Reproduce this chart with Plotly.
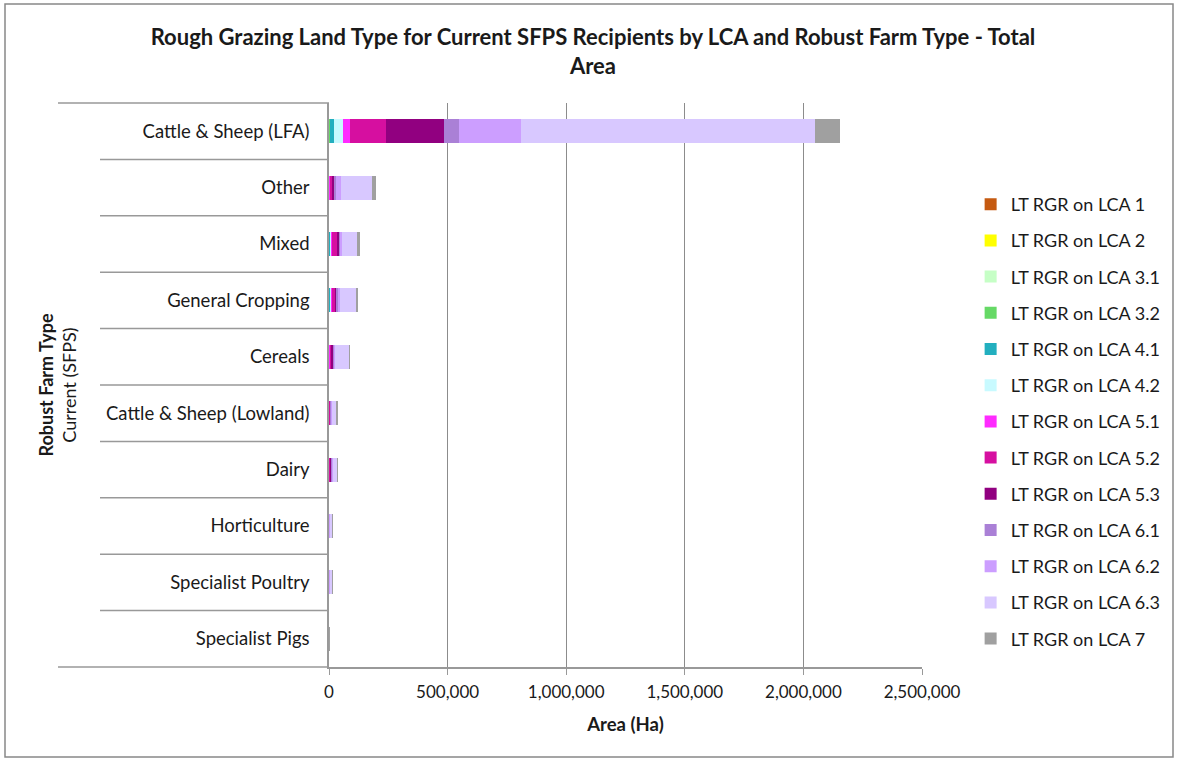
import plotly.graph_objects as go

# Robust farm types, top to bottom
farm_types = [
    "Cattle & Sheep (LFA)",
    "Other",
    "Mixed",
    "General Cropping",
    "Cereals",
    "Cattle & Sheep (Lowland)",
    "Dairy",
    "Horticulture",
    "Specialist Poultry",
    "Specialist Pigs",
]

# Rough grazing area (Ha) by Land Capability for Agriculture class
lca_1 = [300, 0, 0, 0, 0, 0, 0, 0, 0, 0]
lca_2 = [200, 0, 0, 0, 0, 0, 0, 0, 0, 0]
lca_3_1 = [1500, 0, 200, 200, 0, 0, 0, 0, 0, 0]
lca_3_2 = [3000, 200, 500, 500, 200, 100, 100, 0, 0, 0]
lca_4_1 = [15000, 1000, 4000, 4000, 1000, 500, 500, 0, 0, 0]
lca_4_2 = [40000, 1000, 5500, 4000, 1000, 500, 500, 0, 0, 0]
lca_5_1 = [29000, 2000, 4000, 3000, 2000, 500, 1000, 0, 0, 0]
lca_5_2 = [152000, 9000, 18000, 12000, 8000, 3000, 6000, 500, 0, 0]
lca_5_3 = [244000, 10000, 10000, 10000, 5000, 2000, 4000, 0, 0, 0]
lca_6_1 = [65000, 8000, 5500, 6000, 4000, 2000, 2000, 500, 1000, 0]
lca_6_2 = [260000, 21000, 8500, 8000, 6000, 5000, 4000, 4000, 6000, 0]
lca_6_3 = [1240000, 131000, 62000, 67000, 58000, 19000, 16000, 8000, 7000, 1500]
lca_7 = [106000, 15000, 13000, 6000, 3000, 5000, 3000, 500, 500, 1500]

series_names = [
    "LT RGR on LCA 1", "LT RGR on LCA 2", "LT RGR on LCA 3.1", "LT RGR on LCA 3.2",
    "LT RGR on LCA 4.1", "LT RGR on LCA 4.2", "LT RGR on LCA 5.1", "LT RGR on LCA 5.2",
    "LT RGR on LCA 5.3", "LT RGR on LCA 6.1", "LT RGR on LCA 6.2", "LT RGR on LCA 6.3",
    "LT RGR on LCA 7",
]
series_values = [
    lca_1, lca_2, lca_3_1, lca_3_2, lca_4_1, lca_4_2, lca_5_1,
    lca_5_2, lca_5_3, lca_6_1, lca_6_2, lca_6_3, lca_7,
]
series_colors = [
    "#C55A11", "#FFFF00", "#C6FFC6", "#66D966", "#23AFBF", "#C8FAFF", "#FF2BFF",
    "#D60FA0", "#910080", "#AA80D6", "#CC9EFF", "#D8C8FF", "#A0A0A0",
]

x_ticks = [0, 500000, 1000000, 1500000, 2000000, 2500000]
x_tick_text = ["0", "500,000", "1,000,000", "1,500,000", "2,000,000", "2,500,000"]

FONT = "Lato, 'Open Sans', sans-serif"
TXT = "#1a1a1a"

fig = go.Figure()
for name, vals, col in zip(series_names, series_values, series_colors):
    fig.add_trace(go.Bar(
        y=farm_types, x=vals, name=name, orientation="h",
        marker=dict(color=col, line=dict(width=0)),
        legendgroup=name,
    ))

# plot area in pixels: x 329..922, y 103..667
L, R, T, B = 329, 922, 103, 667
W, H = R - L, B - T


def px_x(p):
    return (p - L) / W


def px_y(p):
    return (B - p) / H


shapes = []
# outer chart frame
shapes.append(dict(type="rect", xref="paper", yref="paper",
                   x0=px_x(5), x1=px_x(1173), y0=px_y(757), y1=px_y(4),
                   line=dict(color="#888888", width=1.5), fillcolor="rgba(0,0,0,0)",
                   layer="below"))
# category area top and bottom rules
shapes.append(dict(type="line", xref="paper", yref="paper",
                   x0=px_x(58), x1=0, y0=1, y1=1,
                   line=dict(color="#999999", width=1.5)))
shapes.append(dict(type="line", xref="paper", yref="paper",
                   x0=px_x(58), x1=0, y0=0, y1=0,
                   line=dict(color="#999999", width=1.5)))
# separators between categories
for i in range(len(farm_types) - 1):
    shapes.append(dict(type="line", xref="paper", yref="y",
                       x0=px_x(100), x1=0, y0=i + 0.5, y1=i + 0.5,
                       line=dict(color="#999999", width=1.5)))

fig.update_layout(
    width=1178, height=760,
    margin=dict(l=L, r=1178 - R, t=T, b=760 - B),
    paper_bgcolor="white", plot_bgcolor="white",
    barmode="stack", bargap=0.575,
    font=dict(family=FONT, size=16, color=TXT),
    title=dict(
        text="<b>Rough Grazing Land Type for Current SFPS Recipients by LCA and Robust Farm Type - Total<br>Area</b>",
        x=593 / 1178, xanchor="center",
        y=1 - 45 / 760, yanchor="top",
        font=dict(family=FONT, size=22, color=TXT),
    ),
    xaxis=dict(
        range=[0, 2500000], tickvals=x_ticks, ticktext=x_tick_text,
        showgrid=True, gridcolor="#8c8c8c", gridwidth=1,
        showline=True, linecolor="#999999", linewidth=1.5,
        ticks="outside", ticklen=6, tickcolor="#999999",
        ticklabelstandoff=3,
        zeroline=False, tickfont=dict(size=17, color=TXT),
        title=dict(text="<b>Area (Ha)</b>", font=dict(size=18.5, color=TXT), standoff=17),
    ),
    yaxis=dict(
        autorange="reversed", showline=True, linecolor="#999999", linewidth=1.5,
        showgrid=False, ticks="", tickfont=dict(size=18.5, color=TXT),
        ticklabelstandoff=14,
    ),
    legend=dict(
        x=1.082, xanchor="left", y=px_y(186), yanchor="top",
        traceorder="grouped", tracegroupgap=9.8,
        font=dict(size=18, color=TXT), bgcolor="rgba(0,0,0,0)",
    ),
    shapes=shapes,
    annotations=[dict(
        text="<b>Robust Farm Type</b><br>Current (SFPS)",
        xref="paper", yref="paper", x=px_x(56.5), y=0.5,
        xanchor="center", yanchor="middle", textangle=-90, showarrow=False,
        font=dict(size=18, color=TXT),
    )],
)

fig.write_html("out.html")
